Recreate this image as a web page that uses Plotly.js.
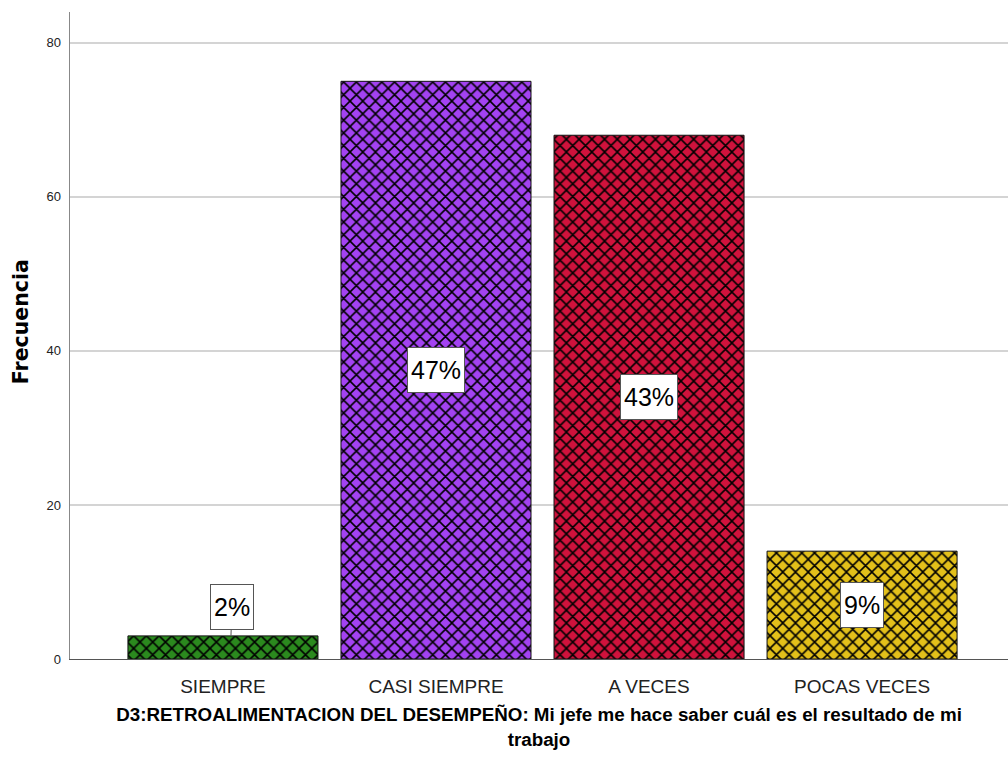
<!DOCTYPE html>
<html>
<head>
<meta charset="utf-8">
<script src="https://cdn.plot.ly/plotly-3.0.1.min.js"></script>
<style>html,body{margin:0;padding:0;background:#fff;}#chart{width:1008px;height:780px;}</style>
</head>
<body>
<div id="chart"></div>
<script>
const categories = ["SIEMPRE", "CASI SIEMPRE", "A VECES", "POCAS VECES"];
const frequencies = [3, 75, 68, 14];
const percentLabels = ["2%", "47%", "43%", "9%"];
const barColors = ["#2b8a1e", "#a342f2", "#d0123c", "#e3c01a"];
const yTicks = [0, 20, 40, 60, 80];
const yTitle = "Frecuencia";
const xTitle = "D3:RETROALIMENTACION DEL DESEMPEÑO: Mi jefe me hace saber cuál es el resultado de mi<br>trabajo";

const narrow = '"Liberation Sans Narrow", "Arial Narrow", "Liberation Sans", Arial, sans-serif';

const traces = categories.map((c, i) => ({
  type: 'bar',
  x: [c],
  y: [frequencies[i]],
  width: 0.892,
  marker: {
    color: barColors[i],
    line: {color: '#111', width: 1},
    pattern: {shape: 'x', fgcolor: '#000', bgcolor: barColors[i], size: 9, solidity: 0.32, fillmode: 'replace'}
  },
  hoverinfo: 'skip',
  showlegend: false
}));

const annotations = categories.map((c, i) => {
  const small = frequencies[i] < 8;
  return {
    x: c, y: small ? frequencies[i] : frequencies[i] / 2,
    xref: 'x', yref: 'y',
    text: percentLabels[i],
    showarrow: small,
    arrowhead: 0, arrowwidth: 1, arrowcolor: '#555',
    ax: small ? 1 : 0, ay: small ? -29 : 0,
    xshift: small ? 8 : 0,
    height: 38,
    valign: 'middle',
    font: {family: narrow, size: 25, color: '#000'},
    bgcolor: '#fff', bordercolor: '#555', borderwidth: 1, borderpad: 3
  };
});

annotations.push({
  xref: 'paper', yref: 'paper',
  x: -0.052, y: 0.521,
  xanchor: 'center', yanchor: 'middle',
  textangle: -90,
  showarrow: false,
  text: '<b>' + yTitle + '</b>',
  font: {family: '"DejaVu Sans", Verdana, sans-serif', size: 20.5, color: '#000'}
});

const layout = {
  width: 1008, height: 780,
  margin: {l: 70, r: 0, t: 12, b: 121},
  paper_bgcolor: '#fff', plot_bgcolor: '#fff',
  bargap: 0.108,
  xaxis: {
    type: 'category',
    categoryorder: 'array', categoryarray: categories,
    range: [-0.718, 3.685],
    showgrid: false, zeroline: false,
    showline: true, linecolor: '#555', linewidth: 1,
    ticks: '', ticklen: 0,
    ticklabelstandoff: 10,
    tickfont: {family: narrow, size: 19, color: '#222'},
    title: {text: '<b>' + xTitle + '</b>',
            font: {family: narrow, size: 18.8, color: '#000'}, standoff: 12}
  },
  yaxis: {
    range: [0, 84],
    tickvals: yTicks,
    showgrid: true, gridcolor: '#d4d4d4', gridwidth: 1.5,
    zeroline: false,
    showline: true, linecolor: '#888', linewidth: 1.5,
    ticks: '',
    ticklabelstandoff: 5,
    tickfont: {family: narrow, size: 13, color: '#222'}
  },
  annotations: annotations
};

Plotly.newPlot('chart', traces, layout, {displayModeBar: false, staticPlot: true});
</script>
</body>
</html>
